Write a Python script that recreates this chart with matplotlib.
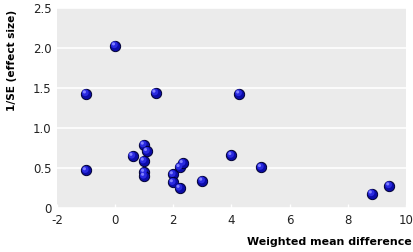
import matplotlib
matplotlib.use("Agg")
import matplotlib.pyplot as plt
import matplotlib.transforms as mtransforms
from matplotlib.ticker import FuncFormatter, FixedLocator

plt.rcParams['axes.unicode_minus'] = False

# Data
wmd = [0.0, -1.0, 1.39, -1.0, 0.6, 0.99, 1.1, 0.99, 1.0, 1.0,
       1.99, 1.99, 2.22, 2.22, 2.33, 3.0, 4.27, 4.0, 5.02, 8.83, 9.43]
inv_se = [2.03, 1.43, 1.44, 0.47, 0.65, 0.79, 0.71, 0.59, 0.45, 0.40,
          0.42, 0.32, 0.25, 0.51, 0.56, 0.34, 1.43, 0.66, 0.51, 0.18, 0.28]
x_ticks = [-2, 0, 2, 4, 6, 8, 10]
y_ticks = [0, 0.5, 1.0, 1.5, 2.0, 2.5]

fig = plt.figure(figsize=(4.14, 2.52), dpi=100)
ax = fig.add_axes([57/414, 44/252, 349/414, 200/252])
ax.set_facecolor('#ebebeb')
for s in ax.spines.values():
    s.set_visible(False)

ax.set_xlim(-2, 10)
ax.set_ylim(0, 2.5)
ax.xaxis.set_major_locator(FixedLocator(x_ticks))
ax.yaxis.set_major_locator(FixedLocator(y_ticks))
ax.xaxis.set_major_formatter(FuncFormatter(lambda v, p: '%d' % v))
ax.yaxis.set_major_formatter(FuncFormatter(lambda v, p: '0' if v == 0 else '%.1f' % v))
ax.grid(axis='y', color='white', linewidth=1.2)
ax.set_axisbelow(True)
ax.tick_params(axis='y', length=0, pad=4, labelsize=8.5, labelcolor='#222222')
ax.tick_params(axis='x', direction='in', length=3, color='white', width=1,
               pad=4, labelsize=8.5, labelcolor='#222222')

# sphere-like markers
ax.scatter(wmd, inv_se, s=55, color='#0c0ca8', edgecolors='#000033',
           linewidths=0.7, zorder=3)
off1 = mtransforms.offset_copy(ax.transData, fig=fig, x=-0.6, y=0.6, units='points')
ax.scatter(wmd, inv_se, s=24, color='#2a2ae0', edgecolors='none', zorder=4,
           transform=off1)
off2 = mtransforms.offset_copy(ax.transData, fig=fig, x=-1.2, y=1.2, units='points')
ax.scatter(wmd, inv_se, s=5, color='#8080ff', edgecolors='none', zorder=5,
           transform=off2)

lab_font = ['DejaVu Sans']
fig.text(12/414, 1 - 60/252, '1/SE (effect size)', rotation=90, ha='center',
         va='center', fontsize=7.6, fontweight='bold', family=lab_font)
fig.text(412/414, 1 - 242/252, 'Weighted mean difference', ha='right',
         va='center', fontsize=7.9, fontweight='bold', family=lab_font)

fig.savefig('out.png', dpi=100)
